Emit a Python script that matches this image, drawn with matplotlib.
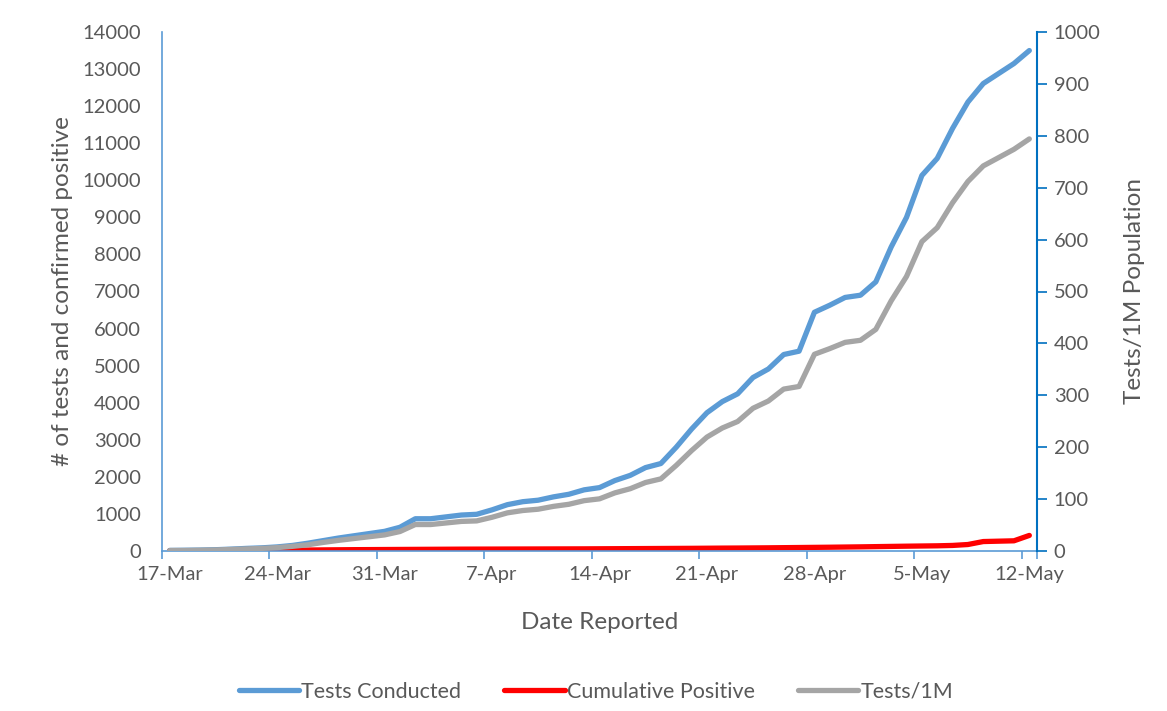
import numpy as np
import matplotlib.pyplot as plt

# ============================================================
# DATA (daily 17-Mar .. 12-May)
# ============================================================

start_date = np.datetime64("2020-03-17")
n_days = 57

tests_conducted = [
    15, 20, 25, 35, 50, 70, 85,
    110, 150, 210, 280, 350, 410, 470,
    530, 640, 870, 870, 920, 970, 990,
    1110, 1250, 1330, 1370, 1460, 1530, 1650,
    1710, 1900, 2040, 2250, 2360, 2800, 3290,
    3730, 4030, 4240, 4680, 4910, 5300, 5390,
    6440, 6630, 6840, 6900, 7260, 8200, 9000,
    10130, 10590, 11400, 12110, 12610, 12880, 13150,
    13500,
]

cumulative_positive = [
    1, 2, 3, 5, 7, 10, 14,
    18, 22, 26, 30, 33, 36, 38,
    40, 42, 44, 46, 48, 50, 51,
    52, 53, 54, 55, 56, 57, 58,
    60, 62, 64, 66, 68, 70, 72,
    75, 78, 80, 83, 86, 90, 94,
    98, 102, 107, 112, 118, 124, 130,
    135, 140, 150, 175, 255, 265, 275,
    420,
]

tests_per_1m = [
    1, 1, 1.5, 2, 3, 4, 5,
    6.5, 9, 12, 16.5, 20.5, 24, 27.5,
    31, 37.5, 51, 51, 54, 57, 58,
    65, 73.5, 78, 80.5, 86, 90, 97,
    100.5, 112, 120, 132, 139, 165, 193.5,
    219.5, 237, 249.5, 275, 289, 312, 317,
    379, 390, 402, 406, 427, 482, 529,
    596, 623, 671, 712, 742, 758, 774,
    794,
]

tick_days = [0, 7, 14, 21, 28, 35, 42, 49, 56]

# ============================================================
# STYLE
# ============================================================

plt.rcParams["font.family"] = ["Lato", "DejaVu Sans"]

TEXT = "#595959"
BLUE = "#5B9BD5"
RED = "#FF0000"
GRAY = "#A5A5A5"
AXIS_LIGHT = "#5B9BD5"
AXIS_DARK = "#0070C0"

TICK_FS = 14.5
TITLE_FS = 17.5
LEGEND_FS = 15.5

days = np.arange(n_days)
dates = start_date + days
months = {3: "Mar", 4: "Apr", 5: "May"}
tick_labels = [f"{int(str(dates[d])[8:])}-{months[int(str(dates[d])[5:7])]}" for d in tick_days]

fig = plt.figure(figsize=(11.67, 7.11), dpi=100)
ax = fig.add_axes([162 / 1167, 1 - 551 / 711, (1037 - 162) / 1167, (551 - 32) / 711])
ax2 = ax.twinx()

ax.plot(days, tests_conducted, color=BLUE, lw=3.8, solid_capstyle="round", label="Tests Conducted")
ax.plot(days, cumulative_positive, color=RED, lw=3.8, solid_capstyle="round", label="Cumulative Positive")
ax2.plot(days, tests_per_1m, color=GRAY, lw=3.8, solid_capstyle="round", label="Tests/1M")

ax.set_xlim(-0.5, n_days - 0.5)
ax.set_ylim(0, 14000)
ax2.set_ylim(0, 1000)

ax.set_yticks(np.arange(0, 14001, 1000))
ax2.set_yticks(np.arange(0, 1001, 100))

# ticks on day boundaries, labels on day centres
ax.set_xticks([d - 0.5 for d in tick_days] + [n_days - 0.5])
ax.set_xticklabels([])
ax.set_xticks(tick_days, minor=True)
ax.set_xticklabels(tick_labels, minor=True)
ax.tick_params(axis="x", which="major", length=6, width=1.2, color=AXIS_LIGHT, direction="out")
ax.tick_params(axis="x", which="minor", length=0, pad=11, labelsize=TICK_FS, labelcolor=TEXT)

ax.tick_params(axis="y", length=0, pad=15, labelsize=TICK_FS, labelcolor=TEXT)
ax2.tick_params(axis="y", length=7, width=1.2, color=AXIS_DARK, direction="out",
                pad=5, labelsize=TICK_FS, labelcolor=TEXT)
ax2.tick_params(axis="x", length=0)

for a in (ax, ax2):
    a.spines["top"].set_visible(False)
ax.spines["right"].set_visible(False)
ax.spines["left"].set_color(AXIS_LIGHT)
ax.spines["left"].set_linewidth(1.2)
ax.spines["bottom"].set_color(AXIS_LIGHT)
ax.spines["bottom"].set_linewidth(1.2)
ax2.spines["left"].set_visible(False)
ax2.spines["bottom"].set_visible(False)
ax2.spines["right"].set_color(AXIS_DARK)
ax2.spines["right"].set_linewidth(1.5)

ax.set_xlabel("Date Reported", fontsize=TITLE_FS, color=TEXT, labelpad=21)
ax.set_ylabel("# of tests and confirmed positive", fontsize=TITLE_FS, color=TEXT, labelpad=7)
ax2.set_ylabel("Tests/1M Population", fontsize=TITLE_FS, color=TEXT, labelpad=17)

handles = ax.get_lines() + ax2.get_lines()
leg = fig.legend(
    handles, [h.get_label() for h in handles],
    loc="center", bbox_to_anchor=(596 / 1167, 1 - 692 / 711),
    ncol=3, frameon=False, fontsize=LEGEND_FS, handlelength=2.8,
    handletextpad=0.1, columnspacing=2.0,
)
for t in leg.get_texts():
    t.set_color(TEXT)
for h in leg.get_lines():
    h.set_linewidth(3.8)

plt.savefig("out.png", dpi=100)
plt.close()
print("Saved: out.png")
